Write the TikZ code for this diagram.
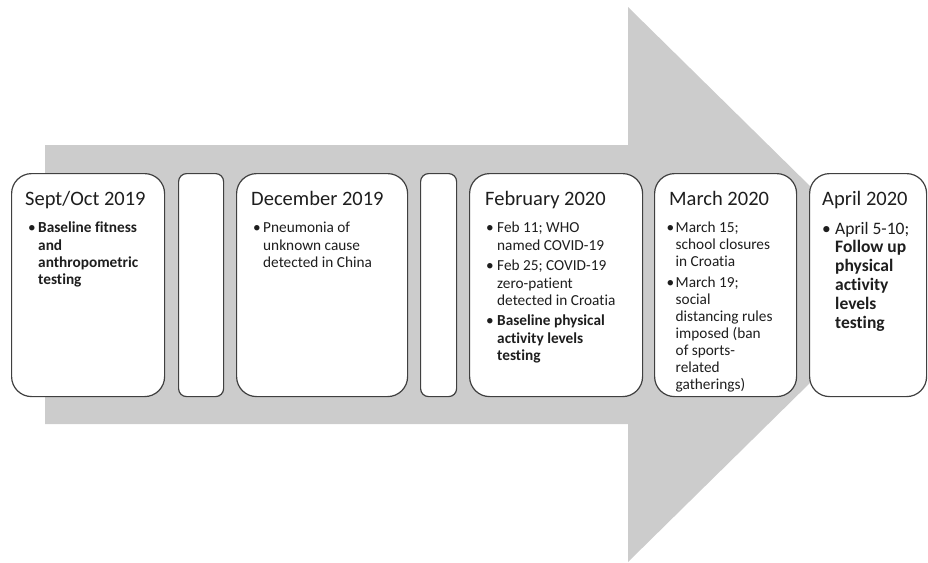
\documentclass[tikz,border=0pt]{standalone}
\usepackage{fontspec}
\setmainfont{Carlito}[Ligatures=NoCommon]
\definecolor{arrowgray}{RGB}{204,204,204}
\definecolor{boxline}{RGB}{64,64,64}
\definecolor{txt}{RGB}{30,30,30}
\newcommand{\tl}[1]{\begin{tabular}[t]{@{}l@{}}#1\end{tabular}}
\tikzset{
  bigbox/.style={draw=boxline, line width=1.2pt, fill=white, rounded corners=20pt, anchor=north west, inner sep=0pt},
  gapbox/.style={draw=boxline, line width=1.2pt, fill=white, rounded corners=8pt, anchor=north west, inner sep=0pt},
  ttl/.style={anchor=base west, inner sep=0pt, text=txt, font=\fontsize{20.5}{24}\selectfont},
  bodytxt/.style={anchor=base west, inner sep=0pt, text=txt, font=\fontsize{15.3}{17.3}\selectfont},
  bodytight/.style={anchor=base west, inner sep=0pt, text=txt, font=\fontsize{15.3}{17}\selectfont},
  bodybig/.style={anchor=base west, inner sep=0pt, text=txt, font=\fontsize{17.5}{18.8}\selectfont}
}
\begin{document}
\begin{tikzpicture}[x=1pt,y=-1pt]
\useasboundingbox (0,0) rectangle (928,562);
% big arrow
\fill[arrowgray] (45,145) -- (628,145) -- (628,7) -- (910,284.5) -- (628,562) -- (628,424) -- (45,424) -- cycle;
% boxes
\node[bigbox, minimum width=153pt, minimum height=223pt] (b1) at (11,173) {};
\node[gapbox, minimum width=45pt, minimum height=223pt] (g1) at (178,173) {};
\node[bigbox, minimum width=171pt, minimum height=223pt] (b2) at (236,173) {};
\node[gapbox, minimum width=36pt, minimum height=223pt] (g2) at (420,173) {};
\node[bigbox, minimum width=173pt, minimum height=223pt] (b3) at (469,173) {};
\node[bigbox, minimum width=142pt, minimum height=223pt] (b4) at (654,173) {};
\node[bigbox, minimum width=117pt, minimum height=223pt] (b5) at (809,173) {};
% box 1
\node[ttl] (t1) at (25,205) {Sept/Oct 2019};
\node[bodytxt] (d1) at (28,232.7) {•};
\node[bodytxt] (p1) at (38,232.7) {\tl{\textbf{Baseline fitness}\\\textbf{and}\\\textbf{anthropometric}\\\textbf{testing}}};
% box 2
\node[ttl] (t2) at (251,205) {December 2019};
\node[bodytxt] (d2) at (253,232.7) {•};
\node[bodytxt] (p2) at (263,232.7) {\tl{Pneumonia of\\unknown cause\\detected in China}};
% box 3
\node[ttl] (t3) at (485,205) {February 2020};
\node[bodytxt] (d3a) at (486,232.7) {•};
\node[bodytxt] (p3a) at (497,232.7) {\tl{Feb 11; WHO\\named COVID-19}};
\node[bodytxt] (d3b) at (486,270.7) {•};
\node[bodytxt] (p3b) at (497,270.7) {\tl{Feb 25; COVID-19\\zero-patient\\detected in Croatia}};
\node[bodytxt] (d3c) at (486,325.7) {•};
\node[bodytxt] (p3c) at (497,325.7) {\tl{\textbf{Baseline physical}\\\textbf{activity levels}\\\textbf{testing}}};
% box 4
\node[ttl] (t4) at (669,205) {March 2020};
\node[bodytight] (d4a) at (666.5,232.7) {•};
\node[bodytight] (p4a) at (675.5,232.7) {\tl{March 15;\\school closures\\in Croatia}};
\node[bodytight] (d4b) at (666.5,287.7) {•};
\node[bodytight] (p4b) at (675.5,287.7) {\tl{March 19;\\social\\distancing rules\\imposed (ban\\of sports-\\related\\gatherings)}};
% box 5
\node[ttl] (t5) at (822,205) {April 2020};
\node[bodybig] (d5) at (822,234) {•};
\node[bodybig] (p5) at (835,234) {\tl{April 5-10;\\\textbf{Follow up}\\\textbf{physical}\\\textbf{activity}\\\textbf{levels}\\\textbf{testing}}};
\end{tikzpicture}
\end{document}
